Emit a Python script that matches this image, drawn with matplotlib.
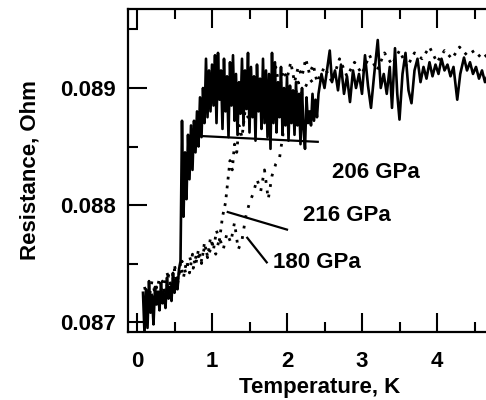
import numpy as np
import matplotlib
matplotlib.use("Agg")
from matplotlib import pyplot as plt
from matplotlib.ticker import MultipleLocator, FixedLocator, FormatStrFormatter

# 206 GPa, solid line
t206 = [0.08, 0.10, 0.12, 0.14, 0.16, 0.18, 0.20, 0.22, 0.24, 0.26, 0.28, 0.30, 0.32,
        0.34, 0.36, 0.38, 0.40, 0.42, 0.44, 0.46, 0.48, 0.50, 0.52, 0.54, 0.56,
        0.58, 0.60, 0.62, 0.64, 0.66, 0.68, 0.70, 0.72, 0.74, 0.76, 0.78, 0.80,
        0.82, 0.84, 0.86, 0.88, 0.90,
        0.92, 0.94, 0.96, 0.98, 1.00, 1.02, 1.04, 1.06, 1.08, 1.10, 1.12, 1.14,
        1.16, 1.18, 1.20, 1.22, 1.24, 1.26, 1.28, 1.30, 1.32, 1.34, 1.36, 1.38,
        1.40, 1.42, 1.44, 1.46, 1.48, 1.50, 1.52, 1.54, 1.56, 1.58, 1.60, 1.62,
        1.64, 1.66, 1.68, 1.70, 1.72, 1.74, 1.76, 1.78, 1.80, 1.82, 1.84, 1.86,
        1.88, 1.90, 1.92, 1.94, 1.96, 1.98, 2.00, 2.02, 2.04, 2.06, 2.08, 2.10,
        2.12, 2.14, 2.16, 2.18, 2.20, 2.22, 2.24, 2.26, 2.28, 2.30, 2.32, 2.34,
        2.36, 2.38, 2.40,
        2.42, 2.46, 2.50, 2.54, 2.57, 2.60, 2.64, 2.68, 2.72, 2.76, 2.80, 2.84,
        2.88, 2.92, 2.96, 3.00, 3.04, 3.08, 3.12, 3.16, 3.21, 3.25, 3.29, 3.33,
        3.37, 3.40, 3.44, 3.47, 3.50, 3.54, 3.58, 3.62, 3.66, 3.70, 3.74, 3.78,
        3.82, 3.86, 3.90, 3.94, 3.98, 4.02, 4.06, 4.10, 4.14, 4.18, 4.22, 4.27,
        4.31, 4.36, 4.40, 4.44, 4.48, 4.52, 4.56, 4.60, 4.64, 4.68]
r206 = [0.08725, 0.08690, 0.08728, 0.08695, 0.08735, 0.08708, 0.08722, 0.08698,
        0.08730, 0.08715, 0.08726, 0.08710, 0.08733, 0.08716, 0.08724, 0.08712,
        0.08738, 0.08720, 0.08730, 0.08718, 0.08742, 0.08725, 0.08736, 0.08728,
        0.08745,
        0.08752, 0.08872, 0.08790, 0.08845, 0.08805, 0.08860, 0.08822, 0.08868,
        0.08830, 0.08872, 0.08845, 0.08880, 0.08850, 0.08892, 0.08858, 0.08900,
        0.08870,
        0.08925, 0.08875, 0.08915, 0.08880, 0.08920, 0.08885, 0.08928, 0.08870,
        0.08930, 0.08890, 0.08915, 0.08865, 0.08925, 0.08880, 0.08910, 0.08858,
        0.08922, 0.08885, 0.08928, 0.08872, 0.08912, 0.08860, 0.08905, 0.08878,
        0.08925, 0.08868, 0.08915, 0.08882, 0.08930, 0.08862, 0.08918, 0.08875,
        0.08910, 0.08855, 0.08920, 0.08880, 0.08908, 0.08865, 0.08925, 0.08870,
        0.08915, 0.08858, 0.08912, 0.08848, 0.08930, 0.08870, 0.08922, 0.08862,
        0.08905, 0.08875, 0.08918, 0.08860, 0.08900, 0.08868, 0.08910, 0.08855,
        0.08902, 0.08870, 0.08898, 0.08860, 0.08905, 0.08868, 0.08895, 0.08852,
        0.08900, 0.08865, 0.08848, 0.08892, 0.08870, 0.08880, 0.08868, 0.08895,
        0.08872, 0.08890, 0.08875,
        0.08895, 0.08912, 0.08900, 0.08918, 0.08932, 0.08905, 0.08915, 0.08898,
        0.08920, 0.08895, 0.08910, 0.08888, 0.08915, 0.08900, 0.08912, 0.08895,
        0.08928, 0.08902, 0.08883, 0.08910, 0.08941, 0.08900, 0.08912, 0.08895,
        0.08918, 0.08883, 0.08934, 0.08895, 0.08873, 0.08912, 0.08930, 0.08898,
        0.08887, 0.08915, 0.08925, 0.08905, 0.08918, 0.08908, 0.08922, 0.08910,
        0.08920, 0.08912, 0.08925, 0.08915, 0.08920, 0.08910, 0.08918, 0.08890,
        0.08912, 0.08926, 0.08915, 0.08922, 0.08912, 0.08918, 0.08908, 0.08915,
        0.08905, 0.08912]

# 216 GPa, dotted
t216 = [0.10, 0.14, 0.18, 0.22, 0.26, 0.30, 0.34, 0.38, 0.42, 0.46, 0.50, 0.54,
        0.58, 0.62, 0.66, 0.70, 0.74, 0.78, 0.82, 0.86, 0.90, 0.94, 0.98, 1.02,
        1.06, 1.10, 1.14, 1.18, 1.21, 1.24, 1.27, 1.30, 1.33, 1.36, 1.40, 1.44,
        1.48, 1.52, 1.56, 1.60, 1.65, 1.70, 1.75, 1.80, 1.85, 1.90, 1.95, 2.00,
        2.05, 2.10, 2.15, 2.20, 2.25, 2.30, 2.35, 2.40, 2.50, 2.60, 2.70, 2.80,
        2.90, 3.00, 3.10, 3.20, 3.30, 3.40, 3.50, 3.60, 3.70, 3.80, 3.90, 4.00,
        4.10, 4.20, 4.30, 4.40, 4.50, 4.60, 4.70]
r216 = [0.08722, 0.08712, 0.08728, 0.08715, 0.08730, 0.08718, 0.08735, 0.08722,
        0.08740, 0.08728, 0.08745, 0.08732, 0.08750, 0.08738, 0.08752, 0.08742,
        0.08758, 0.08748, 0.08762, 0.08750, 0.08768, 0.08755, 0.08772, 0.08762,
        0.08778, 0.08770, 0.08790, 0.08802, 0.08820, 0.08838, 0.08830, 0.08852,
        0.08845, 0.08868, 0.08858, 0.08880, 0.08875, 0.08895, 0.08882, 0.08902,
        0.08890, 0.08912, 0.08895, 0.08905, 0.08918, 0.08900, 0.08915, 0.08908,
        0.08922, 0.08905, 0.08918, 0.08910, 0.08925, 0.08912, 0.08920, 0.08905,
        0.08918, 0.08905, 0.08925, 0.08910, 0.08922, 0.08912, 0.08928, 0.08915,
        0.08930, 0.08920, 0.08932, 0.08918, 0.08930, 0.08925, 0.08935, 0.08922,
        0.08932, 0.08925, 0.08935, 0.08928, 0.08932, 0.08925, 0.08930]

# 180 GPa, dotted
t180 = [0.10, 0.15, 0.20, 0.25, 0.30, 0.35, 0.40, 0.45, 0.50, 0.55, 0.60, 0.65,
        0.70, 0.75, 0.80, 0.85, 0.90, 0.95, 1.00, 1.05, 1.10, 1.15, 1.20, 1.25,
        1.30, 1.35, 1.40, 1.45, 1.50, 1.55, 1.60, 1.65, 1.70, 1.75, 1.80, 1.85,
        1.90, 1.95, 2.00, 2.05, 2.10, 2.15, 2.20, 2.30, 2.40]
r180 = [0.08730, 0.08718, 0.08735, 0.08722, 0.08738, 0.08725, 0.08742, 0.08732,
        0.08748, 0.08736, 0.08752, 0.08742, 0.08756, 0.08746, 0.08760, 0.08750,
        0.08764, 0.08755, 0.08768, 0.08758, 0.08772, 0.08762, 0.08776, 0.08768,
        0.08785, 0.08762, 0.08770, 0.08790, 0.08802, 0.08810, 0.08822, 0.08812,
        0.08830, 0.08805, 0.08825, 0.08835, 0.08840, 0.08862, 0.08885, 0.08898,
        0.08890, 0.08905, 0.08895, 0.08908, 0.08900]

xticks = [0, 1, 2, 3, 4]

plt.rcParams['font.family'] = ['Liberation Sans', 'DejaVu Sans']
plt.rcParams['font.size'] = 16
plt.rcParams['font.weight'] = 'bold'

fig = plt.figure(figsize=(4.86, 4.0), dpi=100)
ax = fig.add_axes([128 / 486, 68 / 400, 384 / 486, 323 / 400])

ax.plot(t206, r206, color='black', lw=1.9)
ax.plot(t216, r216, color='black', lw=2.0, ls=(0, (1, 2.2)))
ax.plot(t180, r180, color='black', lw=2.0, ls=(0, (1, 2.8)))

# labels with leader lines
ax.plot([0.84, 2.41], [0.08859, 0.08854], color='black', lw=1.6)
ax.text(2.60, 0.08828, '206 GPa', ha='left', va='center')
ax.plot([1.21, 2.00], [0.08794, 0.08779], color='black', lw=1.6)
ax.text(2.21, 0.08791, '216 GPa', ha='left', va='center')
ax.plot([1.47, 1.73], [0.08772, 0.08751], color='black', lw=1.6)
ax.text(1.81, 0.08751, '180 GPa', ha='left', va='center')

ax.set_xlim(-0.12, 5.0)
ax.set_ylim(0.086915, 0.089675)
ax.xaxis.set_major_locator(FixedLocator(xticks))
ax.xaxis.set_minor_locator(MultipleLocator(0.5))
ax.yaxis.set_major_locator(MultipleLocator(0.001))
ax.yaxis.set_minor_locator(MultipleLocator(0.0005))
ax.yaxis.set_major_formatter(FormatStrFormatter('%.3f'))

ax.tick_params(which='both', direction='in', top=True, right=True, width=1.5)
ax.tick_params(which='major', length=14)
ax.tick_params(which='minor', length=7)
ax.tick_params(axis='x', pad=14)
ax.tick_params(axis='y', pad=9)
for s in ax.spines.values():
    s.set_linewidth(1.6)

ax.set_xlabel('Temperature, K', fontweight='bold', labelpad=3)
ax.set_ylabel('Resistance, Ohm', fontweight='bold', labelpad=14)

fig.savefig('out.png', dpi=100)
